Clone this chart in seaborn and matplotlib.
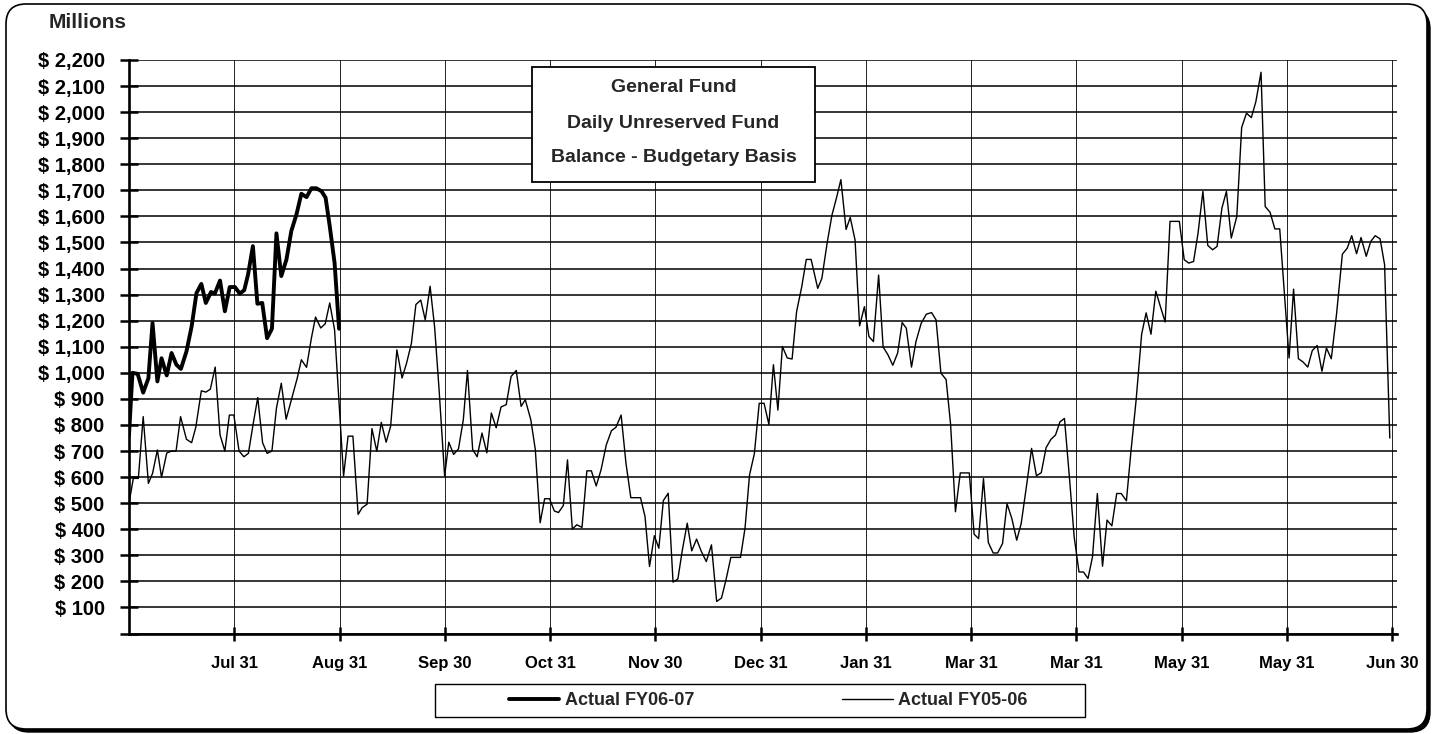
import matplotlib
matplotlib.use("Agg")
import matplotlib.pyplot as plt
import seaborn as sns
from matplotlib import font_manager
from matplotlib.patches import FancyBboxPatch, Rectangle
from matplotlib.lines import Line2D
from matplotlib.ticker import FuncFormatter

# day of fiscal year (Jul 1 = 0) and balance in $ millions
fy0607_day = [0, 1.0, 2.5, 4.1, 5.6, 6.8, 8.2, 9.4, 10.9, 12.3, 13.7, 15.0, 16.6, 18.1,
              19.5, 20.9, 22.2, 23.7, 24.8, 26.3, 27.7, 29.1, 30.6, 32.0, 33.3, 34.4,
              35.8, 37.1, 38.5, 39.9, 41.3, 42.6, 44.0, 45.5, 46.9, 48.4, 49.8, 51.3,
              52.7, 54.1, 55.6, 56.8, 58.0, 59.4, 60.7]
fy0607_val = [760, 1000, 996, 924, 979, 1191, 967, 1056, 990, 1076, 1031, 1015, 1082, 1178,
              1306, 1341, 1268, 1310, 1304, 1354, 1236, 1329, 1329, 1304, 1317, 1377,
              1486, 1265, 1268, 1133, 1169, 1535, 1371, 1435, 1544, 1608, 1687, 1674,
              1708, 1708, 1697, 1672, 1563, 1422, 1169]

fy0506_day = [0, 1.25, 2.7, 4.1, 5.6, 6.8, 8.2, 9.4, 10.9, 12.3, 13.6, 14.9, 16.6, 18.1,
              19.3, 20.9, 22.2, 23.5, 24.9, 26.3, 27.7, 29.0, 30.3, 31.8, 33.2, 34.5,
              35.9, 37.2, 38.6, 39.9, 41.3, 42.6, 44.0, 45.4, 46.9, 48.6, 49.8, 51.3,
              52.7, 53.9, 55.4, 56.7, 58.0, 59.4,
              62.0, 63.3, 64.7, 66.2, 67.4, 68.8, 70.2, 71.6, 72.9, 74.3, 75.6, 77.4,
              78.9, 80.2, 81.6, 82.9, 84.3, 85.6, 87.0, 88.3, 89.6, 91.2, 92.4, 93.8,
              95.2, 96.6, 97.8, 99.3, 100.6, 102.0, 103.4, 104.7, 106.1, 107.5, 109.0,
              110.4, 111.9, 113.3, 114.5, 116.1, 117.4, 118.8, 120.1, 121.5, 122.9, 124.1,
              125.5, 126.7, 128.1, 129.4, 130.9, 132.3, 133.6, 135.0, 136.4, 137.9,
              139.4, 140.7, 142.2, 143.6, 145.0, 146.5, 147.8, 149.1, 150.4, 151.8,
              153.1, 154.4, 155.8, 157.2, 158.6, 159.9, 161.3, 162.6, 164.0, 165.3,
              166.8, 168.3, 169.8, 171.2, 172.5, 173.9, 175.3, 176.7, 178.0, 179.3,
              180.7, 182.1, 183.5, 184.9,
              186.2, 187.5, 188.8, 190.2, 191.6, 192.9, 194.4, 195.7, 197.1, 199.0,
              200.2, 201.7, 203.1, 204.5, 205.7, 207.2, 208.4, 209.8, 211.1, 212.5,
              213.8, 215.1, 216.6, 217.9, 219.3, 220.7, 222.1, 223.4, 224.6, 226.1,
              227.4, 228.9, 230.4, 231.9, 233.2, 234.6, 236.1, 237.4, 238.8, 240.2,
              241.6, 242.8,
              244.2, 245.5, 246.9, 248.3, 249.7, 251.0, 252.4, 253.7, 255.1, 256.5,
              257.8, 259.5, 260.8, 262.2, 263.6, 265.0, 266.4, 267.7, 269.0, 270.3,
              271.8, 273.1, 274.5, 275.8, 277.1, 278.4, 279.8, 281.3, 282.6, 284.0,
              285.4, 286.7, 288.2, 289.5, 291.0, 292.6, 293.9, 295.3, 296.7, 298.0,
              299.4,
              300.8, 302.3, 303.5, 304.9, 306.2, 307.6, 308.9, 310.3, 311.7, 313.1,
              314.4, 315.8, 317.1, 318.5, 320.1, 321.5, 322.9, 324.3, 325.6, 327.1,
              328.3, 329.7, 331.1, 332.5, 335.2, 336.5, 337.9, 339.2, 340.6, 341.9,
              343.3, 344.7, 346.0, 347.4, 348.9, 350.6, 352.0, 353.3, 354.7, 356.0,
              357.5, 358.8, 360.1, 361.5, 362.8, 364.3]
fy0506_val = [500, 595, 595, 832, 576, 614, 704, 599, 692, 700, 700, 832, 745, 732,
              791, 931, 926, 937, 1022, 762, 700, 838, 838, 700, 678, 691,
              806, 905, 732, 691, 700, 864, 960, 822, 896, 979, 1050, 1021,
              1133, 1214, 1172, 1188, 1268, 1165,
              604, 757, 757, 457, 483, 496, 786, 699, 810, 734, 795, 1088,
              980, 1037, 1113, 1262, 1279, 1203, 1332, 1177, 935, 604, 734, 687,
              708, 820, 1009, 706, 678, 769, 693, 846, 789, 869, 878,
              986, 1009, 871, 897, 820, 706, 425, 517, 517, 470, 464,
              491, 666, 401, 417, 407, 624, 624, 566, 628, 723,
              778, 791, 838, 653, 521, 521, 521, 449, 257, 375,
              327, 510, 538, 197, 209, 321, 423, 317, 362, 317,
              276, 340, 123, 136, 206, 292, 292, 292, 404, 608,
              690, 883, 883, 802,
              1031, 857, 1101, 1057, 1053, 1235, 1331, 1435, 1435, 1324,
              1362, 1496, 1604, 1675, 1741, 1550, 1596, 1509, 1180, 1254,
              1139, 1120, 1375, 1099, 1069, 1029, 1076, 1193, 1171, 1022,
              1120, 1190, 1225, 1231, 1203, 999, 974, 802, 467, 616,
              616, 616,
              381, 364, 594, 349, 309, 309, 345, 498, 441, 358,
              422, 582, 710, 605, 617, 713, 745, 761, 812, 825,
              588, 371, 236, 236, 211, 294, 537, 258, 435, 413,
              537, 537, 509, 697, 895, 1148, 1230, 1148, 1313, 1255,
              1195,
              1581, 1581, 1581, 1434, 1421, 1427, 1536, 1696, 1489, 1472,
              1485, 1632, 1696, 1517, 1600, 1941, 1996, 1979, 2040, 2153,
              1638, 1616, 1552, 1552, 1057, 1321, 1054, 1042, 1022, 1085,
              1105, 1006, 1095, 1054, 1223, 1455, 1478, 1526, 1457, 1519,
              1447, 1504, 1526, 1514, 1415, 750]

month_labels = ["Jul 31", "Aug 31", "Sep 30", "Oct 31", "Nov 30", "Dec 31",
                "Jan 31", "Mar 31", "Mar 31", "May 31", "May 31", "Jun 30"]
y_ticks = list(range(0, 2300, 100))
title_lines = ["General Fund", "Daily Unreserved Fund", "Balance - Budgetary Basis"]
series_labels = ["Actual FY06-07", "Actual FY05-06"]

sns.set_theme(style="white")
plt.rcParams['font.family'] = ['Liberation Sans', 'DejaVu Sans']
plt.rcParams['font.weight'] = 'bold'

# x tick labels in the original are a condensed face
installed = {f.name for f in font_manager.fontManager.ttflist}
if 'Liberation Sans Narrow' in installed:
    xlab_family, xlab_size = 'Liberation Sans Narrow', 14.5
else:
    xlab_family, xlab_size = 'Liberation Sans', 12

W, H = 1435, 734
fig = plt.figure(figsize=(W / 100, H / 100), dpi=100)


def fx(px):
    return px / W


def fy(py):
    return 1 - py / H


# rounded outer frame with a drop shadow on right / bottom
shadow = FancyBboxPatch((0.09, 0.02), 14.21, 7.23, boxstyle="round,pad=0,rounding_size=0.2",
                        transform=fig.dpi_scale_trans, facecolor="black", edgecolor="black",
                        zorder=-3)
frame = FancyBboxPatch((0.06, 0.05), 14.21, 7.25, boxstyle="round,pad=0,rounding_size=0.2",
                       transform=fig.dpi_scale_trans, facecolor="white", edgecolor="black",
                       linewidth=1.2, zorder=-2)
fig.add_artist(shadow)
fig.add_artist(frame)

ax = fig.add_axes([fx(129), fy(633.5), (1396.7 - 129) / W, (633.5 - 60) / H])
ax.patch.set_alpha(0)

sns.lineplot(x=fy0506_day, y=fy0506_val, ax=ax, color="black", linewidth=1.0, sort=False)
sns.lineplot(x=fy0607_day, y=fy0607_val, ax=ax, color="black", linewidth=2.8, sort=False)

ax.set_xlim(0, 366.3)
ax.set_ylim(0, 2200)
ax.set_xticks([k * 365 / 12 for k in range(1, 13)])
ax.set_xticklabels(month_labels)
ax.set_yticks(y_ticks)
ax.yaxis.set_major_formatter(FuncFormatter(lambda v, p: f"$ {v:,.0f}" if v > 0 else ""))
ax.set_xlabel("")
ax.set_ylabel("")

ax.tick_params(axis="y", direction="inout", length=13, width=1.8, pad=11,
               labelsize=14.5, left=True, colors="black")
ax.tick_params(axis="x", direction="inout", length=10, width=1.8, pad=11,
               labelsize=xlab_size, bottom=True, colors="black")
for lab in ax.get_yticklabels():
    lab.set_fontweight("bold")
for lab in ax.get_xticklabels():
    lab.set_fontweight("bold")
    lab.set_family([xlab_family, 'DejaVu Sans'])

ax.yaxis.grid(True, color="black", linewidth=1.1)
ax.xaxis.grid(True, color="#222222", linewidth=0.7)
ax.set_axisbelow(True)
for side in ["top", "right"]:
    ax.spines[side].set_visible(False)
for side in ["left", "bottom"]:
    ax.spines[side].set_color("black")
    ax.spines[side].set_linewidth(1.9)

fig.text(fx(49), fy(22), "Millions", ha="left", va="center", fontsize=15, fontweight="bold")

# title box
fig.add_artist(Rectangle((fx(531.7), fy(181.7)), (815 - 531.7) / W, (181.7 - 66.7) / H,
                         transform=fig.transFigure, facecolor="white", edgecolor="black",
                         linewidth=1.3, zorder=3))
for line, py in zip(title_lines, [88, 123, 157]):
    fig.text(fx(673.5), fy(py), line, ha="center", va="center", fontsize=14,
             fontweight="bold", zorder=4)

# legend box
fig.add_artist(Rectangle((fx(435), fy(717)), (1085 - 435) / W, (717 - 684) / H,
                         transform=fig.transFigure, facecolor="white", edgecolor="black",
                         linewidth=1.0, zorder=3))
handles = [Line2D([], [], color="black", linewidth=2.8),
           Line2D([], [], color="black", linewidth=1.0)]
fig.legend(handles, series_labels, loc="center", bbox_to_anchor=(fx(768), fy(700.5)),
           ncol=2, frameon=False, handlelength=2.8, handletextpad=0.3,
           columnspacing=8.2, prop={"weight": "bold", "size": 13})

fig.savefig("out.png", dpi=100)
